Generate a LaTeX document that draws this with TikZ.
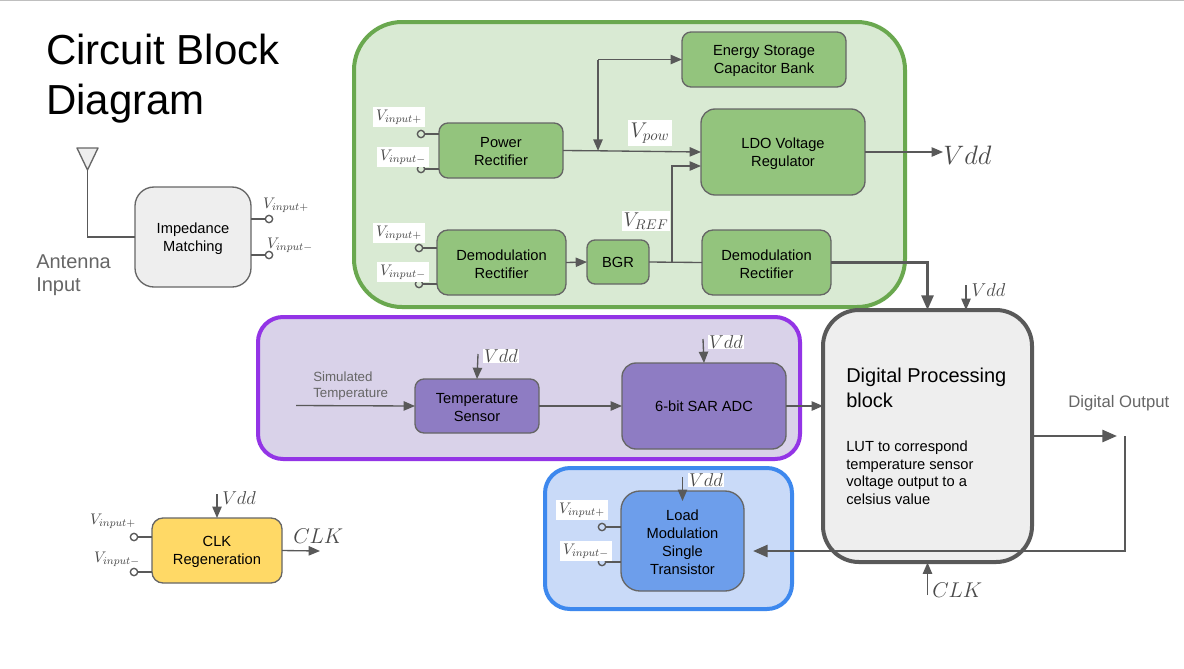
\documentclass[tikz,border=0pt]{standalone}
\usepackage{fix-cm}
\usepackage[no-math]{fontspec}
\setmainfont{Liberation Sans}
\usetikzlibrary{arrows.meta,calc}
\definecolor{wirec}{HTML}{595959}
\definecolor{edgec}{HTML}{666666}
\definecolor{mathc}{HTML}{4A4A4A}
\definecolor{greyfill}{HTML}{EEEEEE}
\definecolor{greenfill}{HTML}{93C47D}
\definecolor{greenpanel}{HTML}{D9EAD3}
\definecolor{greenedge}{HTML}{6AA84F}
\definecolor{purplefill}{HTML}{8E7CC3}
\definecolor{purplepanel}{HTML}{D9D2E9}
\definecolor{purpleedge}{HTML}{9334E6}
\definecolor{bluefill}{HTML}{6D9EEB}
\definecolor{bluepanel}{HTML}{C9DAF8}
\definecolor{blueedge}{HTML}{3D88EE}
\definecolor{yellowfill}{HTML}{FFD966}
\newcommand{\pxfont}[1]{\fontsize{#1}{1.23\dimexpr#1pt\relax}\selectfont}
\newcommand{\blockbox}[7]{\node[#2, minimum width={(#5-#3)*0.75pt}, minimum height={(#6-#4)*0.75pt}] (#1) at ({(#3+#5)/2},{(#4+#6)/2}) {#7};}
\newcommand{\blocktext}[2]{\node[boxtext] (#1-text) at (#1.center) {#2};}
\tikzset{
  x=0.75pt, y=-0.75pt,
  rr/.style={rounded corners=#1*0.75pt},
  blockstyle/.style={draw=edgec, line width=1pt, align=center, inner sep=0pt, outer sep=0pt, font=\pxfont{11}, text=black},
  boxtext/.style={align=center, inner sep=0pt, font=\pxfont{11}, text=black, yshift=-1.1pt},
  greenbox/.style={blockstyle, fill=greenfill},
  purplebox/.style={blockstyle, fill=purplefill},
  bluebox/.style={blockstyle, fill=bluefill},
  panel/.style={line width=3pt, inner sep=0pt, outer sep=0pt},
  wire/.style={draw=wirec, line width=1pt},
  arrowwire/.style={wire, -{Triangle[length=8.5pt,width=7pt]}},
  thickwire/.style={draw=wirec, line width=2pt},
  thickarrow/.style={thickwire, -{Triangle[length=11pt,width=9pt]}},
  term/.style={circle, draw=wirec, line width=1pt, inner sep=0pt, minimum size=5.5pt, outer sep=0pt},
  mathlabel/.style={inner sep=1pt, text=mathc, font=\pxfont{11.5}},
  whitelabel/.style={mathlabel, fill=white, inner sep=2pt},
  plain/.style={inner sep=0pt, align=left, anchor=west, execute at begin node=\strut},
}
\begin{document}
\begin{tikzpicture}
\useasboundingbox (0,0) rectangle (1184,668);
\fill[white] (0,0) rectangle (1184,668);
\draw[draw=black!25, line width=0.75pt] (0,0.5) -- (1184,0.5);

% panels
\blockbox{gpanel}{panel, draw=greenedge, fill=greenpanel, rr=48}{354}{22}{905}{307}{}
\blockbox{ppanel}{panel, draw=purpleedge, fill=purplepanel, rr=25}{258}{317}{800}{459}{}
\blockbox{bpanel}{panel, draw=blueedge, fill=bluepanel, rr=25}{545}{468}{792}{609}{}

% title and free text
\node[plain, font=\pxfont{31.5}] (title1) at (46,54) {Circuit Block};
\node[plain, font=\pxfont{31.5}] (title2) at (46,104) {Diagram};
\node[plain, font=\pxfont{15}, text=edgec] (ant1) at (36,263.4) {Antenna};
\node[plain, font=\pxfont{15}, text=edgec] (ant2) at (36,287) {Input};
\node[plain, font=\pxfont{10}, text=edgec] (sim1) at (313,378.6) {Simulated};
\node[plain, font=\pxfont{10}, text=edgec] (sim2) at (313,394.6) {Temperature};
\node[plain, font=\pxfont{12.5}, text=edgec] (dout) at (1068,403.3) {Digital Output};

% blocks
\blockbox{energy}{greenbox, rr=9}{682}{32}{846}{87}{}
\blockbox{ldo}{greenbox, rr=14}{701}{109}{865}{195}{}
\blockbox{pow}{greenbox, rr=9}{439}{123}{563}{178}{}
\blockbox{dem}{greenbox, rr=11}{437}{230}{566}{295}{}
\blockbox{bgr}{greenbox, rr=8}{587}{240}{649}{284}{BGR}
\blockbox{demb}{greenbox, rr=11}{702}{230}{831}{295}{}
\blockbox{imp}{blockstyle, fill=greyfill, rr=19}{135}{187}{251}{287}{}
\blockbox{temp}{purplebox, rr=9}{415}{379}{539}{433}{}
\blockbox{adc}{purplebox, rr=14}{622}{363}{786}{449}{6-bit SAR ADC}
\blockbox{load}{bluebox, rr=19}{621}{491}{744}{591}{}
\blockbox{clkb}{blockstyle, fill=yellowfill, rr=11}{152}{518}{282}{583}{}
\blockbox{dig}{draw=wirec, line width=3pt, fill=greyfill, inner sep=0pt, outer sep=0pt, rr=36}{823}{310}{1032}{562}{}
\blocktext{energy}{Energy Storage\\Capacitor Bank}
\blocktext{ldo}{LDO Voltage\\Regulator}
\blocktext{pow}{Power\\Rectifier}
\blocktext{dem}{Demodulation\\Rectifier}
\blocktext{demb}{Demodulation\\Rectifier}
\blocktext{imp}{Impedance\\Matching}
\blocktext{temp}{Temperature\\Sensor}
\blocktext{load}{Load\\Modulation\\Single\\Transistor}
\blocktext{clkb}{CLK\\Regeneration}

\node[plain, font=\pxfont{15}] (dig1) at (846,378) {Digital Processing};
\node[plain, font=\pxfont{15}] (dig2) at (846,403) {block};
\node[plain, font=\pxfont{11}] (lut1) at (846,447.5) {LUT to correspond};
\node[plain, font=\pxfont{11}] (lut2) at (846,465.5) {temperature sensor};
\node[plain, font=\pxfont{11}] (lut3) at (846,483) {voltage output to a};
\node[plain, font=\pxfont{11}] (lut4) at (846,500.5) {celsius value};

% antenna
\coordinate (anta) at (77,148);
\coordinate (antb) at (98,148);
\coordinate (antc) at (87.5,170);
\draw[draw=edgec, fill=greyfill, line width=1pt, line join=round] (anta) -- (antb) -- (antc) -- cycle;
\draw[wire] (antc) |- (imp.west);

% terminals and their labels
\node[term] (ti1) at (269,219) {};
\node[term] (ti2) at (269,255) {};
\node[term] (tp1) at (421,134) {};
\node[term] (tp2) at (421,169) {};
\node[term] (td1) at (419,248) {};
\node[term] (td2) at (419,284) {};
\node[term] (tl1) at (602,527) {};
\node[term] (tl2) at (602,562) {};
\node[term] (tc1) at (134,537) {};
\node[term] (tc2) at (134,572) {};
\foreach \t/\b in {ti1/imp,ti2/imp}{\draw[wire] (\t.west) -- (\b.east |- \t.west);}
\foreach \t/\b in {tp1/pow,tp2/pow,td1/dem,td2/dem,tl1/load,tl2/load,tc1/clkb,tc2/clkb}{\draw[wire] (\t.east) -- (\b.west |- \t.east);}

\node[mathlabel] (li1) at (286,205) {$V_{input+}$};
\node[mathlabel] (li2) at (290,245) {$V_{input-}$};
\node[whitelabel] (lp1) at (399,117) {$V_{input+}$};
\node[whitelabel] (lp2) at (403,157) {$V_{input-}$};
\node[whitelabel] (ld1) at (399,233) {$V_{input+}$};
\node[whitelabel] (ld2) at (403,272) {$V_{input-}$};
\node[whitelabel] (ll1) at (582,510) {$V_{input+}$};
\node[whitelabel] (ll2) at (586,551) {$V_{input-}$};
\node[mathlabel] (lc1) at (113,521) {$V_{input+}$};
\node[mathlabel] (lc2) at (117,559) {$V_{input-}$};

\node[whitelabel, font=\pxfont{16}] (vpow) at (650,133) {$V_{pow}$};
\node[whitelabel, font=\pxfont{15}, inner sep=1pt] (vref) at (646,221) {$V_{REF}$};

% green panel connectors
\coordinate (split) at (598,150.8);
\coordinate (splittop) at (598,59.5);
\draw[wire] (pow.east) -- (split);
\draw[arrowwire] (split) -- (ldo.west);
\draw[arrowwire] (splittop) -- (split);
\draw[arrowwire] (splittop) -- (energy.west);
\draw[arrowwire] (dem.east) -- (bgr.west);
\draw[wire] (bgr.east) -- (demb.west);
\coordinate (refup) at (672,262.3);
\coordinate (refin) at (701,166);
\draw[arrowwire] (refup) |- (refin);

% Vdd supplies
\coordinate (vddout) at (943,152);
\draw[arrowwire] (ldo.east) -- (vddout);
\node[inner sep=0pt, text=mathc, font=\pxfont{20}, anchor=west] (vddbig) at (943,155) {$Vdd$};

\coordinate (vs1) at (966,285);
\coordinate (vs1e) at (966,310);
\draw[arrowwire] (vs1) -- (vs1e);
\node[mathlabel, font=\pxfont{14}, anchor=west] (vl1) at (970,290) {$Vdd$};

\coordinate (vs2) at (478,354);
\draw[arrowwire] (vs2) -- (temp.north);
\node[whitelabel, font=\pxfont{14}, inner sep=0.5pt] (vl2) at (501,356) {$Vdd$};

\coordinate (vs3) at (703,339);
\draw[arrowwire] (vs3) -- (adc.north);
\node[whitelabel, font=\pxfont{14}, inner sep=0.5pt] (vl3) at (726,342) {$Vdd$};

\coordinate (vs4) at (682.5,477);
\coordinate (vs4e) at (682.5,501);
\draw[arrowwire] (vs4) -- (vs4e);
\node[whitelabel, font=\pxfont{14}, inner sep=0.5pt] (vl4) at (706,480) {$Vdd$};

\coordinate (vs5) at (217,494);
\draw[arrowwire] (vs5) -- (clkb.north);
\node[mathlabel, font=\pxfont{14}, anchor=west, inner sep=0pt] (vl5) at (222,498) {$Vdd$};

% temperature chain
\coordinate (tempin) at (296,405.5);
\draw[arrowwire] (tempin) -- (temp.west);
\draw[arrowwire] (temp.east) -- (adc.west);
\coordinate (adcout) at (823,406);
\draw[arrowwire] (adc.east) -- (adcout);

% clock
\coordinate (clkend) at (320,551);
\draw[arrowwire] (clkb.east) -- (clkend);
\node[mathlabel, font=\pxfont{16}, anchor=west, inner sep=0pt] (lclk) at (293,536) {$CLK$};
\coordinate (clkstart) at (927.5,595);
\coordinate (clkin) at (927.5,562.5);
\draw[arrowwire] (clkstart) -- (clkin);
\node[mathlabel, font=\pxfont{16}, anchor=west, inner sep=0pt] (lclk2) at (932,590) {$CLK$};

% thick connectors
\coordinate (dcorner) at (927.5,262.5);
\coordinate (dtop) at (927.5,310);
\draw[thickarrow] (demb.east) -- (dcorner) -- (dtop);
\coordinate (outend) at (1117,436);
\draw[thickarrow] (dig.east) -- (outend);
\coordinate (fbtop) at (1125,436);
\coordinate (fbbot) at (1125,551);
\coordinate (fbend) at (753,551);
\draw[thickarrow] (fbtop) -- (fbbot) -- (fbend);
\end{tikzpicture}
\end{document}
